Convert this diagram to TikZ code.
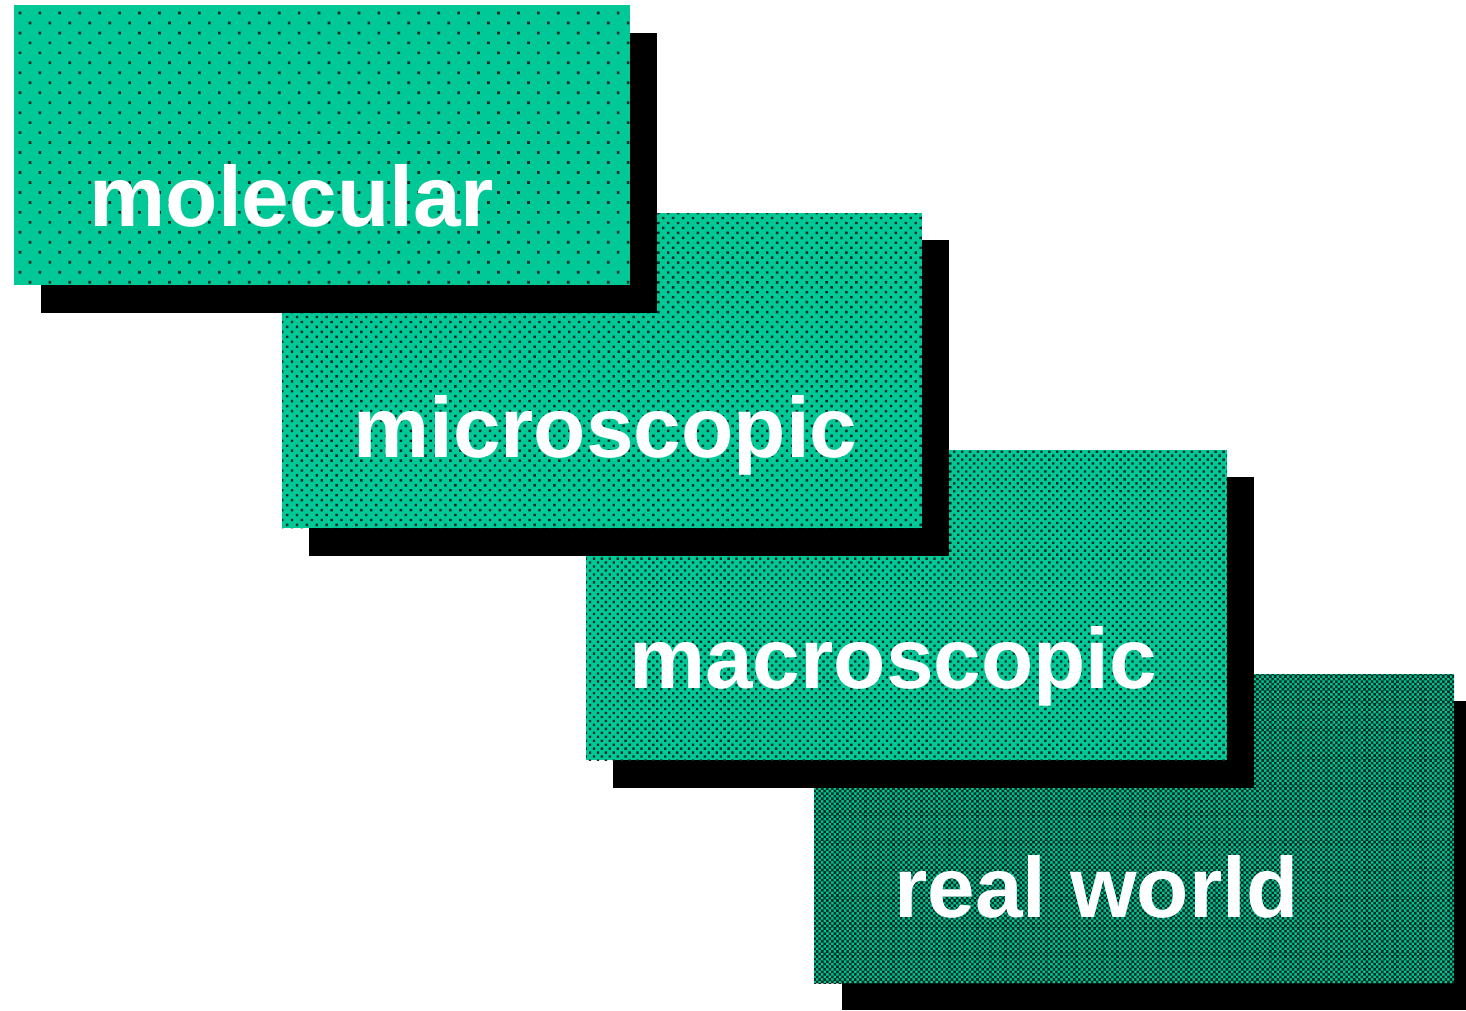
\documentclass[tikz,border=0pt]{standalone}
\usepackage{fontspec}
\setmainfont{Liberation Sans}
\usetikzlibrary{patterns.meta}
\definecolor{tealbase}{RGB}{0,200,150}
\definecolor{dotc}{RGB}{10,45,36}
\begin{document}
\begin{tikzpicture}[x=1pt,y=-1pt]
\tikzset{
  panel/.style={fill=tealbase, draw=none, inner sep=0pt, anchor=north west},
  dots/.style n args={2}{postaction={pattern={Dots[distance=#1, radius=#2, angle=45]}, pattern color=dotc}},
  drop/.style={fill=black},
  caption/.style={text=white, inner sep=0pt, anchor=base west,
    font=\fontsize{85.6}{85.6}\selectfont\bfseries}
}
\useasboundingbox (0,0) rectangle (1466,1010);

% lowest layer first: real world
\fill[drop] (842,701) rectangle (1466,1010);
\node[panel, dots={3.6pt}{1.85pt}, minimum width=640pt, minimum height=309pt] (rw) at (814,674) {};
\node[caption] (rwt) at (894,917) {real world};

% macroscopic
\fill[drop] (613,477) rectangle (1254,788);
\node[panel, dots={5.6pt}{1.65pt}, minimum width=641pt, minimum height=310pt] (mac) at (586,450) {};
\node[caption] (mact) at (629,688) {macroscopic};

% microscopic
\fill[drop] (309,240) rectangle (949,556);
\node[panel, dots={7pt}{1.7pt}, minimum width=640pt, minimum height=315pt] (mic) at (282,213) {};
\node[caption] (mict) at (353,457) {microscopic};

% molecular
\fill[drop] (41,33) rectangle (657,313);
\node[panel, dots={14.1pt}{1.9pt}, minimum width=616pt, minimum height=280pt] (mol) at (14,5) {};
\node[caption] (molt) at (89.5,226) {molecular};
\end{tikzpicture}
\end{document}
